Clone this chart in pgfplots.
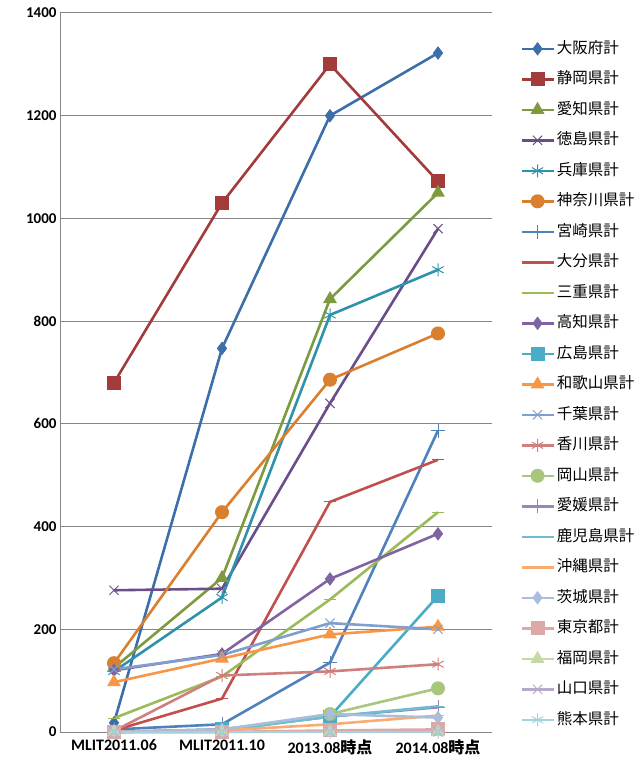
\documentclass[border=0pt]{standalone}
\usepackage{pgfplots}
\pgfplotsset{compat=1.18}
\usepackage{fontspec}
\setmainfont{Carlito}
\newfontfamily\cjk{Noto Sans CJK JP}
\definecolor{c1}{HTML}{3C6EAA}
\definecolor{c2}{HTML}{A23B3A}
\definecolor{c3}{HTML}{7D9B3E}
\definecolor{c4}{HTML}{6A4E8A}
\definecolor{c5}{HTML}{2E93AA}
\definecolor{c6}{HTML}{D97F2E}
\definecolor{c7}{HTML}{4F81BD}
\definecolor{c8}{HTML}{C0504D}
\definecolor{c9}{HTML}{9BBB59}
\definecolor{c10}{HTML}{8064A2}
\definecolor{c11}{HTML}{4BACC6}
\definecolor{c12}{HTML}{F79646}
\definecolor{c13}{HTML}{7F9FCF}
\definecolor{c14}{HTML}{CF7F7D}
\definecolor{c15}{HTML}{A9C77C}
\definecolor{c16}{HTML}{9B86B6}
\definecolor{c17}{HTML}{6FBDD1}
\definecolor{c18}{HTML}{F9AC72}
\definecolor{c19}{HTML}{A9BEDC}
\definecolor{c20}{HTML}{DCA9A8}
\definecolor{c21}{HTML}{C5D8A8}
\definecolor{c22}{HTML}{B7A9CA}
\definecolor{c23}{HTML}{A4D3E0}
\definecolor{gridc}{HTML}{868686}
\begin{document}
\begin{tikzpicture}
\useasboundingbox (-60pt,-31pt) rectangle (581pt,732pt);
\begin{axis}[
  at={(0pt,0pt)}, anchor=south west,
  scale only axis, width=432pt, height=719pt,
  xmin=-0.5, xmax=3.5, ymin=0, ymax=1400,
  xtick={0,1,2,3},
  xticklabels={MLIT2011.06,MLIT2011.10,2013.08{\cjk 時点},2014.08{\cjk 時点}},
  x tick label style={font=\fontsize{16}{18}\selectfont\bfseries, yshift=-4pt},
  extra x ticks={0.5,1.5,2.5,3.5},
  extra x tick labels={},
  extra x tick style={major tick length=5pt, tick align=outside, tick style={gridc, line width=1pt}},
  major x tick style={draw=none},
  ytick={0,200,...,1400},
  y tick label style={font=\fontsize{15}{17}\selectfont\bfseries},
  /pgf/number format/assume math mode=true,
  /pgf/number format/1000 sep={},
  ymajorgrids, grid style={gridc, line width=1pt},
  major y tick style={draw=none},
  axis x line*=bottom, axis y line*=left,
  axis line style={gridc, line width=1pt},
  every axis plot/.append style={line width=2.6pt, mark options={solid, line width=1pt}},
  legend cell align=left,
  legend style={at={(1.058,0.9637)}, anchor=north west, draw=none, fill=none,
    font=\fontsize{15.5}{17}\selectfont\cjk,
    nodes={text height=12pt, text depth=3pt, inner sep=0pt, inner xsep=2pt},
    row sep=15.5pt},
  legend image code/.code={\draw[mark repeat=2,mark phase=2] plot coordinates {(0pt,0pt) (16pt,0pt) (32pt,0pt)};},
  clip=false,
]
\addplot[c1, mark=diamond*, mark size=6pt] coordinates {(0,18) (1,747) (2,1200) (3,1322)};
\addlegendentry{大阪府計}
\addplot[c2, mark=square*, mark size=6.5pt] coordinates {(0,680) (1,1030) (2,1300) (3,1072)};
\addlegendentry{静岡県計}
\addplot[c3, mark=triangle*, mark size=7pt] coordinates {(0,125) (1,300) (2,843) (3,1050)};
\addlegendentry{愛知県計}
\addplot[c4, mark=x, mark size=6.5pt] coordinates {(0,276) (1,279) (2,640) (3,980)};
\addlegendentry{徳島県計}
\addplot[c5, mark=asterisk, mark size=6.5pt] coordinates {(0,118) (1,262) (2,812) (3,900)};
\addlegendentry{兵庫県計}
\addplot[c6, mark=*, mark size=6.5pt] coordinates {(0,134) (1,428) (2,686) (3,776)};
\addlegendentry{神奈川県計}
\addplot[c7, mark=+, mark size=7pt] coordinates {(0,5) (1,15) (2,135) (3,587)};
\addlegendentry{宮崎県計}
\addplot[c8, mark=-, mark size=6pt] coordinates {(0,3) (1,65) (2,448) (3,530)};
\addlegendentry{大分県計}
\addplot[c9, mark=-, mark size=6pt] coordinates {(0,27) (1,108) (2,258) (3,428)};
\addlegendentry{三重県計}
\addplot[c10, mark=diamond*, mark size=6pt] coordinates {(0,120) (1,152) (2,298) (3,386)};
\addlegendentry{高知県計}
\addplot[c11, mark=square*, mark size=6.5pt] coordinates {(0,0) (1,5) (2,30) (3,265)};
\addlegendentry{広島県計}
\addplot[c12, mark=triangle*, mark size=7pt] coordinates {(0,97) (1,143) (2,190) (3,205)};
\addlegendentry{和歌山県計}
\addplot[c13, mark=x, mark size=6.5pt] coordinates {(0,122) (1,150) (2,212) (3,200)};
\addlegendentry{千葉県計}
\addplot[c14, mark=asterisk, mark size=6.5pt] coordinates {(0,2) (1,110) (2,118) (3,132)};
\addlegendentry{香川県計}
\addplot[c15, mark=*, mark size=6.5pt] coordinates {(0,0) (1,0) (2,35) (3,85)};
\addlegendentry{岡山県計}
\addplot[c16, mark=+, mark size=7pt] coordinates {(0,0) (1,5) (2,30) (3,48)};
\addlegendentry{愛媛県計}
\addplot[c17, mark=-, mark size=6pt] coordinates {(0,0) (1,3) (2,30) (3,50)};
\addlegendentry{鹿児島県計}
\addplot[c18, mark=-, mark size=6pt] coordinates {(0,0) (1,3) (2,15) (3,32)};
\addlegendentry{沖縄県計}
\addplot[c19, mark=diamond*, mark size=6pt] coordinates {(0,0) (1,5) (2,35) (3,28)};
\addlegendentry{茨城県計}
\addplot[c20, mark=square*, mark size=6.5pt] coordinates {(0,0) (1,0) (2,3) (3,5)};
\addlegendentry{東京都計}
\addplot[c21, mark=triangle*, mark size=7pt] coordinates {(0,0) (1,0) (2,0) (3,0)};
\addlegendentry{福岡県計}
\addplot[c22, mark=x, mark size=6.5pt] coordinates {(0,0) (1,0) (2,0) (3,0)};
\addlegendentry{山口県計}
\addplot[c23, mark=asterisk, mark size=6.5pt] coordinates {(0,0) (1,0) (2,0) (3,0)};
\addlegendentry{熊本県計}
\end{axis}
\end{tikzpicture}
\end{document}
